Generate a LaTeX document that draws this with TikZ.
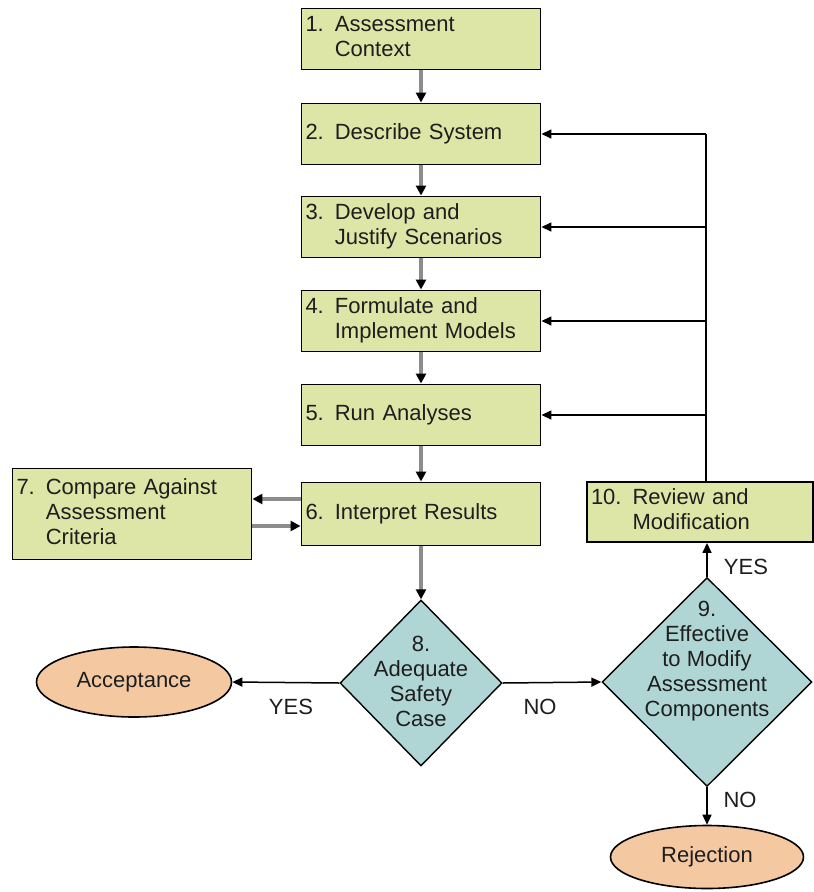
\documentclass[tikz,border=0pt]{standalone}
\usepackage{fontspec}
\setmainfont{Liberation Sans}
\usetikzlibrary{arrows.meta,shapes.geometric}
\definecolor{boxfill}{HTML}{DDE6A6}
\definecolor{diafill}{HTML}{AFD6D4}
\definecolor{ovalfill}{HTML}{F4C9A2}
\definecolor{txt}{HTML}{1E1E1E}
\definecolor{grayarrow}{HTML}{8C8C8C}
\newcommand\hangtext[2]{\begin{tabular}{@{}l@{ }l@{}}#1&\begin{tabular}[t]{@{}l@{}}#2\end{tabular}\end{tabular}}
\begin{document}
\begin{tikzpicture}[x=1pt,y=-1pt,
  every node/.style={text=txt, font=\fontsize{22}{25}\selectfont},
  stepbox/.style={draw=black, line width=1.9pt, fill=boxfill, minimum width=239pt, minimum height=61pt, inner sep=4pt, text width=231pt, align=left, anchor=center},
  decision/.style={draw=black, line width=1.4pt, fill=diafill, diamond, inner sep=0pt},
  dtext/.style={align=center, inner sep=0pt},
  terminal/.style={draw=black, line width=1.6pt, fill=ovalfill, ellipse, inner sep=0pt},
  grayarr/.style={draw=grayarrow, line width=3.6pt, -{Triangle[black,length=10pt,width=10pt]}},
  blkarr/.style={draw=black, line width=1.5pt, -{Triangle[black,length=10pt,width=9pt]}},
  blkline/.style={draw=black, line width=1.5pt},
  lbl/.style={inner sep=0pt}
]
\useasboundingbox[fill=white] (0,0) rectangle (814,892);

\node[stepbox] (b1) at (421,39) {\hangtext{1.}{Assessment\\Context}};
\node[stepbox] (b2) at (421,134) {2. Describe System};
\node[stepbox] (b3) at (421,227) {\hangtext{3.}{Develop and\\Justify Scenarios}};
\node[stepbox] (b4) at (421,321) {\hangtext{4.}{Formulate and\\Implement Models}};
\node[stepbox] (b5) at (421,415) {5. Run Analyses};
\node[stepbox, minimum height=63pt] (b6) at (421,514) {6. Interpret Results};
\node[stepbox, minimum height=91pt] (b7) at (132,514) {\hangtext{7.}{Compare Against\\Assessment\\Criteria}};
\node[stepbox, minimum width=226pt, text width=218pt, minimum height=60pt] (b10) at (700,512) {\hangtext{10.}{Review and\\Modification}};

\node[decision, minimum width=162pt, minimum height=166pt] (d8) at (421,683) {};
\node[dtext] (t8) at (421,681) {8.\\Adequate\\Safety\\Case};
\node[decision, minimum width=210pt, minimum height=209pt] (d9) at (707,682) {};
\node[dtext] (t9) at (707,661) {9.\\Effective\\to Modify\\Assessment\\Components};

\node[terminal, minimum width=195pt, minimum height=70pt] (acc) at (134,682) {Acceptance};
\node[terminal, minimum width=193pt, minimum height=63pt] (rej) at (707,857) {Rejection};

% main flow
\draw[grayarr] (b1) -- (b2);
\draw[grayarr] (b2) -- (b3);
\draw[grayarr] (b3) -- (b4);
\draw[grayarr] (b4) -- (b5);
\draw[grayarr] (b5) -- (b6);
\draw[grayarr] (b6) -- (d8);
\draw[grayarr] ([yshift=15pt]b6.west) -- ([yshift=15pt]b7.east);
\draw[grayarr] ([yshift=-12pt]b7.east) -- ([yshift=-12pt]b6.west);

% decisions
\draw[blkarr] (d8.west) -- (acc.east);
\draw[blkarr] (d8.east) -- (d9.west);
\draw[blkarr] (d9.north) -- (d9.north |- b10.south);
\draw[blkarr] (d9.south) -- (rej.north);

% feedback
\coordinate (fb) at (706,0);
\draw[blkline] (fb |- b10.north) -- (fb |- b2.east);
\draw[blkarr] (fb |- b2.east) -- (b2.east);
\draw[blkarr] (fb |- b3.east) -- (b3.east);
\draw[blkarr] (fb |- b4.east) -- (b4.east);
\draw[blkarr] (fb |- b5.east) -- (b5.east);

% labels
\node[lbl] (yes1) at (291,707) {YES};
\node[lbl] (no1) at (540,707) {NO};
\node[lbl] (yes2) at (746,567) {YES};
\node[lbl] (no2) at (740,800) {NO};
\end{tikzpicture}
\end{document}
